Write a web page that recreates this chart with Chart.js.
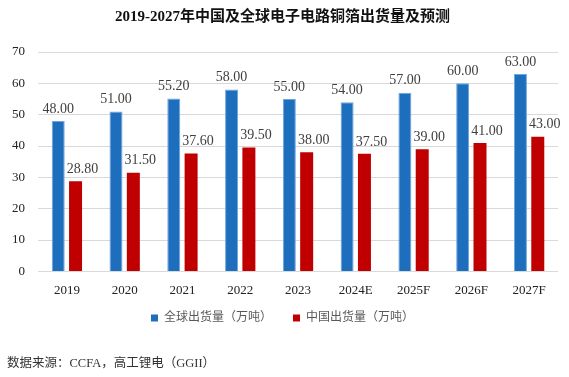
<!DOCTYPE html>
<html>
<head>
<meta charset="utf-8">
<script src="https://cdn.jsdelivr.net/npm/chart.js@4"></script>
<style>
  html, body { margin: 0; padding: 0; background: #fff; }
  #wrap { width: 569px; height: 377px; position: relative; }
</style>
</head>
<body>
<div id="wrap"><canvas id="foilChart" width="569" height="377"></canvas></div>
<script>
var years = ['2019', '2020', '2021', '2022', '2023', '2024E', '2025F', '2026F', '2027F'];
var globalShip = [48.00, 51.00, 55.20, 58.00, 55.00, 54.00, 57.00, 60.00, 63.00];
var chinaShip = [28.80, 31.50, 37.60, 39.50, 38.00, 37.50, 39.00, 41.00, 43.00];
var yTicks = [0, 10, 20, 30, 40, 50, 60, 70];

var serif = '"Liberation Serif", "Times New Roman", "Noto Sans CJK SC", serif';

// draws the value above every bar
var barLabels = {
    id: 'barLabels',
    afterDatasetsDraw: function (chart) {
        var c = chart.ctx;
        c.save();
        c.font = '14px ' + serif;
        c.fillStyle = '#404040';
        c.textAlign = 'center';
        c.textBaseline = 'bottom';
        chart.data.datasets.forEach(function (ds, i) {
            var meta = chart.getDatasetMeta(i);
            meta.data.forEach(function (bar, j) {
                c.fillText(ds.data[j].toFixed(2), bar.x + (i === 1 ? 7 : 0), bar.y - 5);
            });
        });
        c.restore();
    }
};

var ctx = document.getElementById('foilChart').getContext('2d');
var foilChart = new Chart(ctx, {
    type: 'bar',
    data: {
        labels: years,
        datasets: [{
            label: '全球出货量（万吨）',
            data: globalShip,
            backgroundColor: '#1E6EBE',
            borderColor: '#6FA6DC',
            borderWidth: 1,
            categoryPercentage: 0.6,
            barPercentage: 0.75
        }, {
            label: '中国出货量（万吨）',
            data: chinaShip,
            backgroundColor: '#C00000',
            borderColor: '#C00000',
            borderWidth: 0,
            categoryPercentage: 0.6,
            barPercentage: 0.75
        }]
    },
    options: {
        responsive: false,
        animation: false,
        layout: { padding: { left: 7, right: 11, top: 0, bottom: 0 } },
        scales: {
            x: {
                grid: { display: false, drawTicks: false, tickLength: 0 },
                border: { display: false },
                ticks: { color: '#222', font: { family: serif, size: 13 }, padding: 11 }
            },
            y: {
                min: 0,
                max: 70,
                afterBuildTicks: function (axis) {
                    axis.ticks = yTicks.map(function (v) { return { value: v }; });
                },
                afterFit: function (axis) { axis.width = 31; },
                grid: { color: '#d9d9d9', drawTicks: false },
                border: { display: false },
                ticks: { color: '#222', font: { family: serif, size: 13 }, padding: 13 }
            }
        },
        plugins: {
            title: {
                display: true,
                text: '2019-2027年中国及全球电子电路铜箔出货量及预测',
                color: '#111',
                font: { family: serif, size: 15, weight: 'bold' },
                padding: { top: 8, bottom: 26 }
            },
            subtitle: {
                display: true,
                position: 'bottom',
                align: 'start',
                text: '数据来源：CCFA，高工锂电（GGII）',
                color: '#333',
                font: { family: serif, size: 12.5 },
                padding: { top: 22, bottom: 6 }
            },
            legend: {
                position: 'bottom',
                labels: {
                    boxWidth: 7,
                    boxHeight: 7,
                    color: '#595959',
                    padding: 3,
                    font: { family: serif, size: 12 },
                    generateLabels: function (chart) {
                        var items = Chart.defaults.plugins.legend.labels.generateLabels(chart);
                        items.forEach(function (it) { it.lineWidth = 0; });
                        items[0].text = items[0].text + '      ';
                        return items;
                    }
                }
            },
            tooltip: { enabled: false }
        }
    },
    plugins: [barLabels]
});
</script>
</body>
</html>
